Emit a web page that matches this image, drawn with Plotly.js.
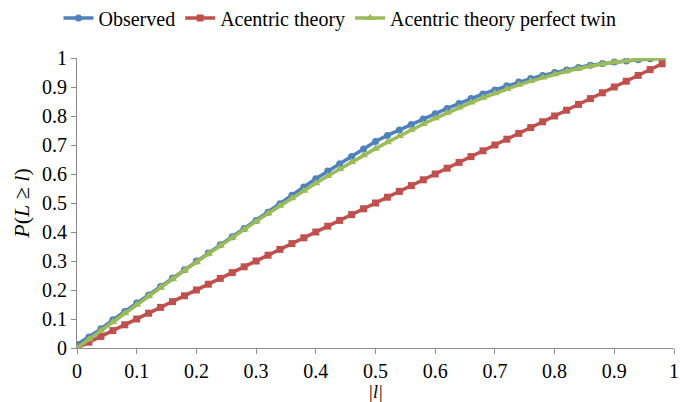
<!DOCTYPE html>
<html>
<head>
<meta charset="utf-8">
<script src="https://cdn.plot.ly/plotly-3.0.1.min.js"></script>
<style>html,body{margin:0;padding:0;background:#fff;}#chart{width:680px;height:402px;}</style>
</head>
<body>
<div id="chart"></div>
<script>
var xValues = [0,0.02,0.04,0.06,0.08,0.10,0.12,0.14,0.16,0.18,0.20,0.22,0.24,0.26,0.28,0.30,0.32,0.34,0.36,0.38,0.40,0.42,0.44,0.46,0.48,0.50,0.52,0.54,0.56,0.58,0.60,0.62,0.64,0.66,0.68,0.70,0.72,0.74,0.76,0.78,0.80,0.82,0.84,0.86,0.88,0.90,0.92,0.94,0.96,0.98];
var observed = [0.012,0.038,0.066,0.097,0.126,0.155,0.183,0.212,0.241,0.270,0.300,0.328,0.356,0.384,0.412,0.440,0.468,0.497,0.527,0.555,0.584,0.610,0.635,0.660,0.686,0.712,0.733,0.752,0.771,0.790,0.808,0.826,0.843,0.860,0.876,0.890,0.904,0.917,0.929,0.940,0.950,0.959,0.967,0.975,0.981,0.986,0.990,0.994,0.997,0.999];
var acentric = [0,0.02,0.04,0.06,0.08,0.10,0.12,0.14,0.16,0.18,0.20,0.22,0.24,0.26,0.28,0.30,0.32,0.34,0.36,0.38,0.40,0.42,0.44,0.46,0.48,0.50,0.52,0.54,0.56,0.58,0.60,0.62,0.64,0.66,0.68,0.70,0.72,0.74,0.76,0.78,0.80,0.82,0.84,0.86,0.88,0.90,0.92,0.94,0.96,0.98];
var perfectTwin = [0,0.0300,0.0600,0.0899,0.1197,0.1495,0.1791,0.2086,0.2380,0.2671,0.2960,0.3247,0.3531,0.3812,0.4090,0.4365,0.4636,0.4903,0.5167,0.5426,0.5680,0.5930,0.6174,0.6413,0.6647,0.6875,0.7097,0.7313,0.7522,0.7724,0.7920,0.8108,0.8289,0.8463,0.8628,0.8785,0.8934,0.9074,0.9205,0.9327,0.9440,0.9543,0.9636,0.9720,0.9793,0.9855,0.9907,0.9947,0.9976,0.9994];
var seriesNames = ['Observed','Acentric theory','Acentric theory perfect twin'];
var xTicks = [0,0.1,0.2,0.3,0.4,0.5,0.6,0.7,0.8,0.9,1];
var xTickText = ['0','0.1','0.2','0.3','0.4','0.5','0.6','0.7','0.8','0.9','1'];
var yTicks = [0,0.1,0.2,0.3,0.4,0.5,0.6,0.7,0.8,0.9,1];
var yTickText = ['0','0.1','0.2','0.3','0.4','0.5','0.6','0.7','0.8','0.9','1'];

var font = 'Liberation Serif';
var traces = [
  {x: xValues, y: observed, name: seriesNames[0], type:'scatter', mode:'lines+markers',
   line:{color:'#4F81BD', width:3.5}, marker:{symbol:'circle', size:7, color:'#4F81BD'}},
  {x: xValues, y: acentric, name: seriesNames[1], type:'scatter', mode:'lines+markers',
   line:{color:'#C0504D', width:3.5}, marker:{symbol:'square', size:7, color:'#C0504D'}},
  {x: xValues, y: perfectTwin, name: seriesNames[2], type:'scatter', mode:'lines+markers',
   line:{color:'#9BBB59', width:3.5}, marker:{symbol:'triangle-up', size:8, color:'#9BBB59'}}
];
function axis(extra) {
  var a = {showgrid:false, zeroline:false, showline:true, linecolor:'#8C8C8C', linewidth:1,
    ticks:'outside', ticklen:5, tickcolor:'#8C8C8C', automargin:false,
    tickfont:{family:font, size:20, color:'#000'}};
  for (var k in extra) a[k] = extra[k];
  return a;
}
var layout = {
  width:680, height:402,
  margin:{l:77, r:6, t:58, b:54},
  paper_bgcolor:'#fff', plot_bgcolor:'#fff',
  font:{family:font, color:'#000', size:20},
  showlegend:true,
  legend:{orientation:'h', x:0.5, xref:'container', xanchor:'center', y:0.955, yref:'container', yanchor:'middle',
    font:{family:font, size:20, color:'#000'}, itemwidth:30, tracegroupgap:0},
  xaxis: axis({range:[0,1], tickvals:xTicks, ticktext:xTickText,
    title:{text:'|l|', font:{family:font, size:18, color:'#000', style:'italic'}, standoff:6}}),
  yaxis: axis({range:[0,1], tickvals:yTicks, ticktext:yTickText,
    title:{text:'<i>P</i>(<i>L</i> ≥ <i>l</i>)', font:{family:font, size:22, color:'#000'}, standoff:6}})
};
Plotly.newPlot('chart', traces, layout, {displayModeBar:false, staticPlot:true});
</script>
</body>
</html>
